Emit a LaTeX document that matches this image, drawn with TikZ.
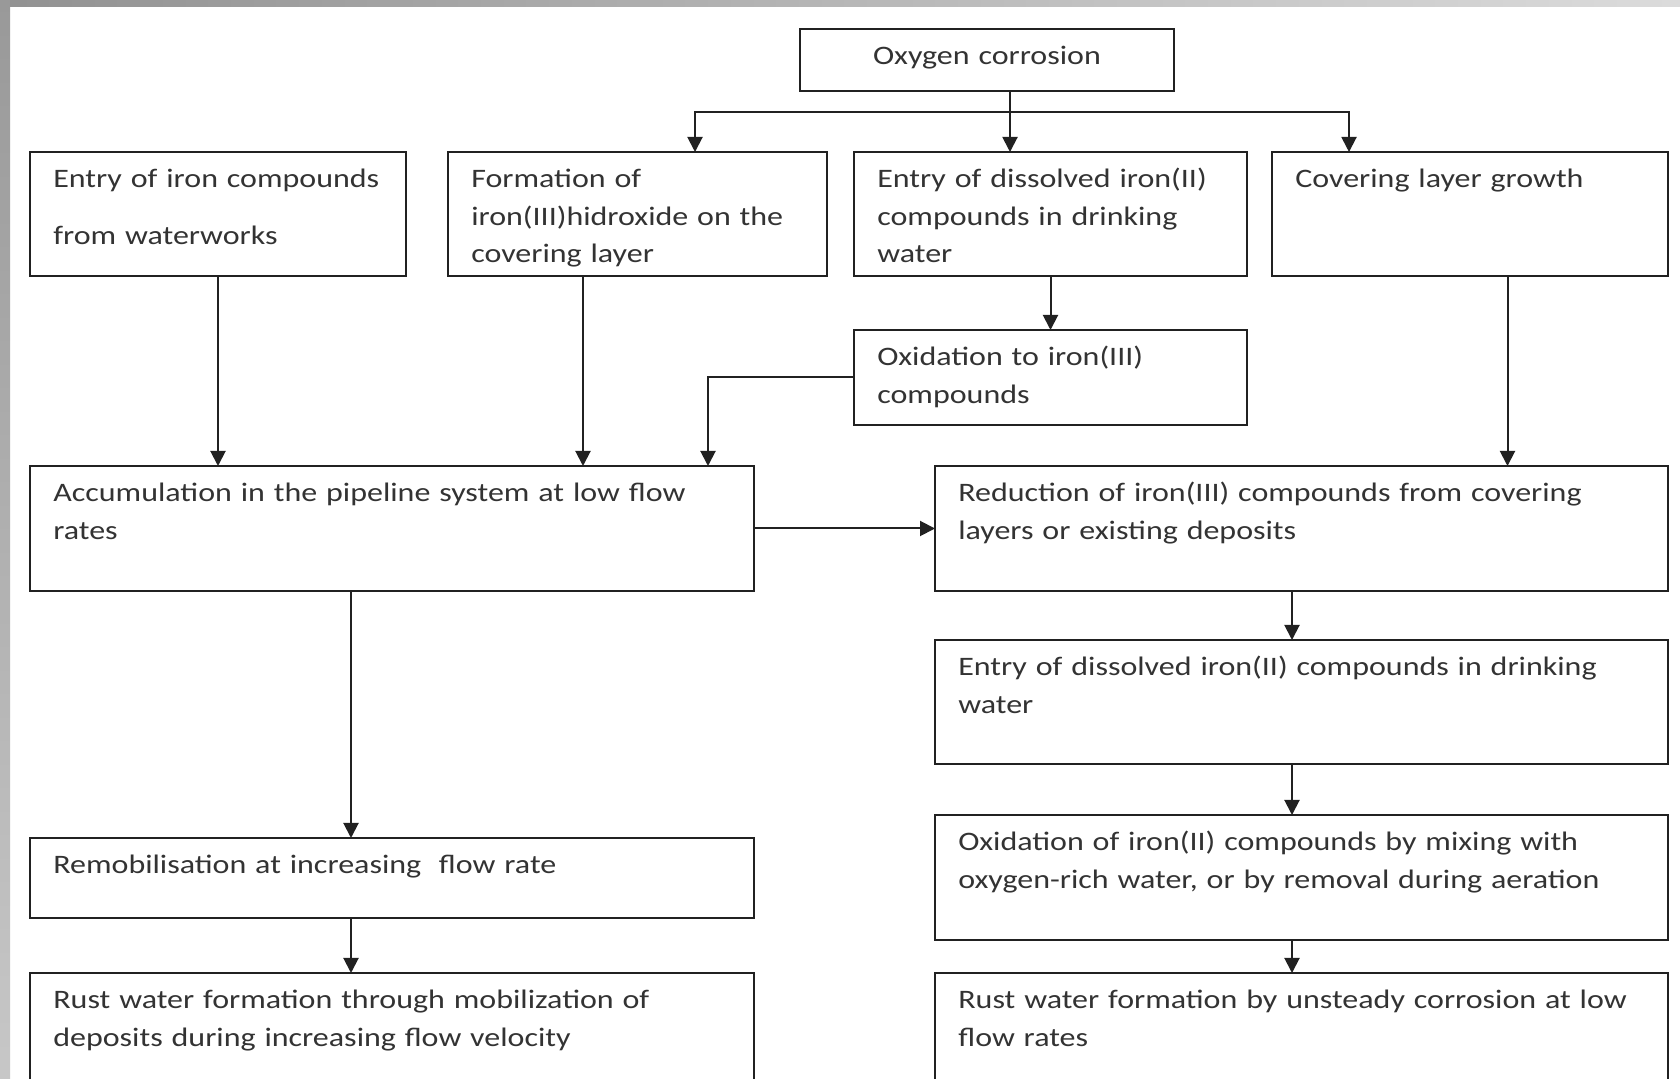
\documentclass[tikz,border=0pt]{standalone}
\usepackage{fontspec}
\setmainfont{Carlito}[FakeStretch=1.2]
\usetikzlibrary{positioning}
\usetikzlibrary{arrows.meta}
\definecolor{inkc}{gray}{0.13}
\definecolor{textc}{gray}{0.2}
\tikzstyle{stage} = [rectangle,draw=inkc,line width=0.6pt,align=left,inner xsep=7pt,inner ysep=0pt,outer sep=0pt,text height=10.8pt,text=textc,font=\fontsize{8}{11.25}\selectfont]
\tikzstyle{flow} = [draw=inkc,line width=0.6pt,-{Triangle[width=4.5pt,length=4.5pt]}]

\begin{document}
\begin{tikzpicture}[x=0.3pt,y=-0.3pt]
\useasboundingbox (0,0) rectangle (1680,1079);
% page frame
\fill[white] (0,0) rectangle (1680,1079);
\shade[left color=black!43,right color=black!14] (0,0) rectangle (1680,7);
\shade[top color=black!40,bottom color=black!22] (0,0) rectangle (10,1079);

% Define nodes
\node[stage, align=center, text width=98.2pt, text depth=7.8pt, anchor=north west] (oxy) at (800,29) {Oxygen corrosion};

\node[stage, text width=98.8pt, text depth=26.4pt, anchor=north west] (e1) at (30,152) {Entry of iron compounds\\[5.75pt]from waterworks};
\node[stage, text width=99.7pt, text depth=26.4pt, right = 12.6pt of e1]  (e2) {Formation of\\iron(III)hidroxide on the\\covering layer};
\node[stage, text width=103.9pt, text depth=26.4pt, right = 8.1pt of e2]  (e3) {Entry of dissolved iron(II)\\compounds in drinking\\water};
\node[stage, text width=104.8pt, text depth=26.4pt, right = 7.5pt of e3]  (e4) {Covering layer growth};
\node[stage, text width=103.9pt, text depth=17.7pt, below = 16.2pt of e3] (ox3) {Oxidation to iron(III)\\compounds};

\node[stage, text width=203.2pt, text depth=26.7pt, anchor=north west] (acc) at (30,466) {Accumulation in the pipeline system at low flow\\rates};
\node[stage, text width=203.2pt, text depth=13.2pt, below = 74.1pt of acc] (remob) {Remobilisation at increasing~ flow rate};
\node[stage, text width=203.2pt, text depth=31.2pt, below = 16.5pt of remob] (rustL) {Rust water formation through mobilization of\\deposits during increasing flow velocity};

\node[stage, text width=205.9pt, text depth=26.7pt, right = 54.3pt of acc] (red) {Reduction of iron(III) compounds from covering\\layers or existing deposits};
\node[stage, text width=205.9pt, text depth=26.4pt, below = 14.7pt of red] (e5) {Entry of dissolved iron(II) compounds in drinking\\water};
\node[stage, text width=205.9pt, text depth=26.7pt, below = 15.3pt of e5] (ox2) {Oxidation of iron(II) compounds by mixing with\\oxygen-rich water, or by removal during aeration};
\node[stage, text width=205.9pt, text depth=31.2pt, below = 9.9pt of ox2] (rustR) {Rust water formation by unsteady corrosion at low\\flow rates};

% Edges
\coordinate (busM) at (1010,112.5);
\coordinate (busL) at (695,112.5);
\coordinate (busR) at (1349,112.5);
\draw[flow] (oxy.south -| busM) -- (busM |- e3.north);
\draw[flow] (busM) -| (busL |- e2.north);
\draw[flow] (busM) -| (busR |- e4.north);

\draw[flow] (e1.south) -- (e1.south |- acc.north);
\draw[flow] ([xshift=-16.35pt]e2.south) -- ([xshift=-16.35pt]e2.south |- acc.north);
\draw[flow] (e3.south) -- (ox3.north);
\draw[flow] (ox3.west) -| ([xshift=94.8pt]acc.north);
\draw[flow] ([xshift=11.25pt]e4.south) -- ([xshift=11.25pt]e4.south |- red.north);
\draw[flow] (acc.east) -- (red.west);

\draw[flow] ([xshift=-12.3pt]acc.south) -- ([xshift=-12.3pt]remob.north);
\draw[flow] ([xshift=-12.3pt]remob.south) -- ([xshift=-12.3pt]rustL.north);

\draw[flow] ([xshift=-2.85pt]red.south) -- ([xshift=-2.85pt]e5.north);
\draw[flow] ([xshift=-2.85pt]e5.south) -- ([xshift=-2.85pt]ox2.north);
\draw[flow] ([xshift=-2.85pt]ox2.south) -- ([xshift=-2.85pt]rustR.north);
\end{tikzpicture}
\end{document}
